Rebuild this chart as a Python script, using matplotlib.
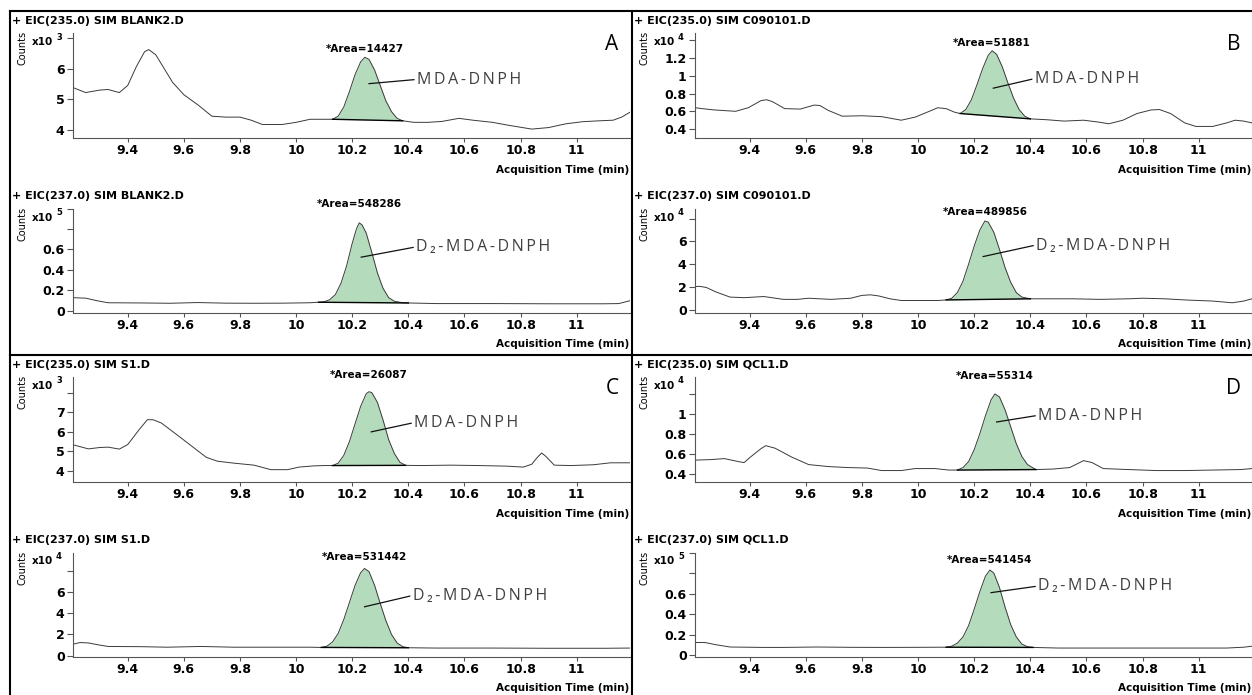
import numpy as np
import matplotlib.pyplot as plt
from matplotlib.lines import Line2D

# ---------------- data (values in units of the x10^n factor on each axis) ----------------
samples = ['BLANK2.D', 'C090101.D', 'S1.D', 'QCL1.D']
letters = ['A', 'B', 'C', 'D']
ions = ['235.0', '237.0']
compounds = ['MDA-DNPH', 'D\u2082-MDA-DNPH']
areas = [[14427, 548286], [51881, 489856], [26087, 531442], [55314, 541454]]
exponents = [[3, 5], [4, 4], [3, 4], [4, 5]]

# A: BLANK2
t_A1 = [9.20, 9.25, 9.30, 9.33, 9.37, 9.40, 9.43, 9.46, 9.475, 9.50, 9.53, 9.56, 9.60, 9.65, 9.70,
        9.75, 9.80, 9.84, 9.88, 9.95, 10.0, 10.05, 10.10,
        10.13, 10.15, 10.17, 10.19, 10.21, 10.23, 10.245, 10.26, 10.28, 10.30, 10.32, 10.34, 10.36, 10.38,
        10.42, 10.47, 10.52, 10.58, 10.63, 10.70, 10.76, 10.84, 10.90, 10.96, 11.02, 11.08, 11.13, 11.16, 11.19]
y_A1 = [5.40, 5.22, 5.30, 5.32, 5.22, 5.45, 6.05, 6.55, 6.62, 6.45, 6.00, 5.55, 5.15, 4.82, 4.45,
        4.42, 4.42, 4.32, 4.18, 4.18, 4.25, 4.35, 4.35,
        4.35, 4.45, 4.75, 5.25, 5.80, 6.22, 6.37, 6.30, 5.95, 5.45, 4.95, 4.60, 4.38, 4.30,
        4.25, 4.25, 4.28, 4.38, 4.32, 4.25, 4.15, 4.03, 4.08, 4.20, 4.27, 4.30, 4.32, 4.42, 4.58]
t_A2 = [9.20, 9.25, 9.29, 9.33, 9.45, 9.55, 9.65, 9.75, 9.85, 9.95, 10.05,
        10.08, 10.10, 10.12, 10.14, 10.16, 10.18, 10.20, 10.215, 10.225, 10.235, 10.25, 10.27, 10.29,
        10.31, 10.33, 10.35, 10.38, 10.40,
        10.50, 10.70, 10.90, 11.10, 11.15, 11.19]
y_A2 = [0.13, 0.125, 0.10, 0.08, 0.078, 0.075, 0.082, 0.076, 0.075, 0.076, 0.080,
        0.085, 0.09, 0.11, 0.16, 0.27, 0.44, 0.66, 0.80, 0.86, 0.84, 0.76, 0.57, 0.37,
        0.22, 0.13, 0.095, 0.08, 0.078,
        0.072, 0.072, 0.070, 0.070, 0.072, 0.10]

# B: C090101
t_B1 = [9.195, 9.23, 9.275, 9.30, 9.35, 9.395, 9.44, 9.46, 9.48, 9.525, 9.58, 9.63, 9.65, 9.68, 9.73,
        9.80, 9.87, 9.94, 9.99, 10.04, 10.07, 10.10, 10.13,
        10.15, 10.17, 10.19, 10.21, 10.23, 10.25, 10.264, 10.28, 10.30, 10.32, 10.34, 10.36, 10.38, 10.40,
        10.46, 10.52, 10.59, 10.64, 10.68, 10.73, 10.78, 10.83, 10.86, 10.90, 10.95, 10.99, 11.05,
        11.10, 11.13, 11.16, 11.19]
y_B1 = [0.645, 0.63, 0.615, 0.61, 0.60, 0.64, 0.72, 0.73, 0.71, 0.63, 0.625, 0.67, 0.665, 0.61, 0.545,
        0.55, 0.54, 0.50, 0.535, 0.60, 0.64, 0.63, 0.59,
        0.575, 0.62, 0.73, 0.90, 1.08, 1.23, 1.28, 1.24, 1.10, 0.92, 0.75, 0.62, 0.545, 0.515,
        0.505, 0.49, 0.50, 0.48, 0.46, 0.50, 0.575, 0.615, 0.62, 0.575, 0.47, 0.43, 0.43,
        0.47, 0.50, 0.49, 0.47]
t_B2 = [9.195, 9.22, 9.245, 9.28, 9.33, 9.38, 9.45, 9.52, 9.57, 9.61, 9.65, 9.69, 9.76, 9.80, 9.83,
        9.86, 9.90, 9.94, 10.0, 10.07,
        10.10, 10.12, 10.14, 10.16, 10.18, 10.20, 10.22, 10.238, 10.25, 10.27, 10.29, 10.31, 10.33,
        10.35, 10.37, 10.40,
        10.45, 10.55, 10.65, 10.75, 10.80, 10.88, 10.95, 11.05, 11.12, 11.16, 11.19]
y_B2 = [2.0, 2.05, 1.95, 1.55, 1.1, 1.05, 1.15, 0.9, 0.9, 1.0, 0.95, 0.9, 1.0, 1.25, 1.3,
        1.2, 0.95, 0.8, 0.8, 0.8,
        0.85, 1.0, 1.5, 2.5, 4.0, 5.6, 7.0, 7.8, 7.7, 6.8, 5.3, 3.7, 2.4,
        1.5, 1.1, 0.95,
        0.95, 0.95, 0.9, 0.95, 1.0, 0.95, 0.85, 0.75, 0.6, 0.75, 0.95]

# C: S1
t_C1 = [9.20, 9.26, 9.30, 9.33, 9.37, 9.40, 9.44, 9.47, 9.49, 9.52, 9.58, 9.63, 9.68, 9.72, 9.78,
        9.85, 9.91, 9.97, 10.01, 10.06, 10.10,
        10.13, 10.15, 10.17, 10.19, 10.21, 10.23, 10.25, 10.26, 10.27, 10.29, 10.31, 10.33, 10.35,
        10.37, 10.39,
        10.45, 10.55, 10.65, 10.75, 10.81, 10.84, 10.86, 10.875, 10.89, 10.92, 10.98, 11.06, 11.12, 11.19]
y_C1 = [5.36, 5.13, 5.20, 5.22, 5.12, 5.35, 6.10, 6.62, 6.62, 6.45, 5.80, 5.25, 4.70, 4.50, 4.40,
        4.30, 4.07, 4.07, 4.20, 4.26, 4.28,
        4.28, 4.40, 4.80, 5.50, 6.40, 7.30, 7.95, 8.05, 8.00, 7.50, 6.60, 5.60, 4.90,
        4.45, 4.29,
        4.28, 4.30, 4.28, 4.25, 4.20, 4.35, 4.70, 4.92, 4.75, 4.30, 4.28, 4.32, 4.42, 4.42]
t_C2 = [9.20, 9.23, 9.26, 9.30, 9.33, 9.45, 9.54, 9.66, 9.78, 9.90, 10.05,
        10.09, 10.11, 10.13, 10.15, 10.17, 10.19, 10.21, 10.23, 10.244, 10.26, 10.28, 10.30, 10.32,
        10.34, 10.36, 10.38, 10.40,
        10.50, 10.70, 10.90, 11.10, 11.19]
y_C2 = [1.05, 1.24, 1.20, 1.00, 0.87, 0.85, 0.80, 0.87, 0.80, 0.80, 0.80,
        0.78, 0.90, 1.30, 2.10, 3.40, 5.00, 6.60, 7.80, 8.20, 7.90, 6.60, 4.90, 3.30,
        2.00, 1.20, 0.85, 0.75,
        0.72, 0.72, 0.70, 0.70, 0.72]

# D: QCL1
t_D1 = [9.195, 9.26, 9.31, 9.36, 9.38, 9.40, 9.44, 9.457, 9.49, 9.55, 9.61, 9.68, 9.75, 9.82, 9.87,
        9.94, 9.99, 10.06, 10.11,
        10.14, 10.16, 10.18, 10.20, 10.22, 10.24, 10.26, 10.274, 10.29, 10.31, 10.33, 10.35, 10.37,
        10.39, 10.42,
        10.48, 10.54, 10.59, 10.62, 10.66, 10.75, 10.85, 10.95, 11.05, 11.15, 11.19]
y_D1 = [0.534, 0.54, 0.55, 0.52, 0.51, 0.56, 0.65, 0.68, 0.655, 0.565, 0.49, 0.47, 0.46, 0.455, 0.43,
        0.43, 0.45, 0.45, 0.435,
        0.435, 0.46, 0.52, 0.64, 0.80, 0.98, 1.14, 1.20, 1.17, 1.04, 0.87, 0.70, 0.57,
        0.49, 0.44,
        0.445, 0.46, 0.53, 0.51, 0.45, 0.44, 0.43, 0.43, 0.435, 0.44, 0.45]
t_D2 = [9.195, 9.24, 9.28, 9.33, 9.45, 9.52, 9.64, 9.76, 9.88, 10.0, 10.07,
        10.10, 10.12, 10.14, 10.16, 10.18, 10.20, 10.22, 10.24, 10.256, 10.27, 10.29, 10.31, 10.33,
        10.35, 10.37, 10.39, 10.41,
        10.50, 10.70, 10.90, 11.10, 11.16, 11.19]
y_D2 = [0.126, 0.126, 0.104, 0.082, 0.078, 0.078, 0.082, 0.079, 0.078, 0.079, 0.080,
        0.080, 0.09, 0.12, 0.18, 0.29, 0.45, 0.62, 0.77, 0.83, 0.80, 0.66, 0.47, 0.30,
        0.18, 0.11, 0.085, 0.078,
        0.072, 0.072, 0.072, 0.072, 0.080, 0.09]

traces = [[(t_A1, y_A1), (t_A2, y_A2)], [(t_B1, y_B1), (t_B2, y_B2)],
          [(t_C1, y_C1), (t_C2, y_C2)], [(t_D1, y_D1), (t_D2, y_D2)]]
# integration windows (start, end) in min
peaks = [[(10.13, 10.38), (10.08, 10.40)], [(10.15, 10.40), (10.10, 10.40)],
         [(10.13, 10.39), (10.09, 10.40)], [(10.14, 10.42), (10.10, 10.41)]]

x_ticks = [9.4, 9.6, 9.8, 10, 10.2, 10.4, 10.6, 10.8, 11]
x_labels = ['9.4', '9.6', '9.8', '10', '10.2', '10.4', '10.6', '10.8', '11']

# ---------------- axis settings ----------------
ylims = [[(3.74, 7.16), (-0.02, 1.0)], [(0.30, 1.48), (-0.3, 8.9)],
         [(3.44, 8.8), (-0.12, 9.7)], [(0.315, 1.37), (-0.015, 1.0)]]
yticks = [[([4, 5, 6, 7], ['4', '5', '6', '']),
           ([0, 0.2, 0.4, 0.6, 0.8, 1.0], ['0', '0.2', '0.4', '0.6', '', ''])],
          [([0.4, 0.6, 0.8, 1.0, 1.2, 1.4], ['0.4', '0.6', '0.8', '1', '1.2', '']),
           ([0, 2, 4, 6, 8], ['0', '2', '4', '6', ''])],
          [([4, 5, 6, 7, 8], ['4', '5', '6', '7', '']),
           ([0, 2, 4, 6, 8], ['0', '2', '4', '6', ''])],
          [([0.4, 0.6, 0.8, 1.0, 1.2], ['0.4', '0.6', '0.8', '1', '']),
           ([0, 0.2, 0.4, 0.6, 0.8, 1.0], ['0', '0.2', '0.4', '0.6', '', ''])]]
# leader line from inside the peak to the compound label (data coords)
leaders = [[((10.26, 5.51), (10.42, 5.64)), ((10.232, 0.525), (10.417, 0.62))],
           [((10.268, 0.86), (10.405, 0.96)), ((10.232, 4.67), (10.41, 5.63))],
           [((10.268, 6.0), (10.41, 6.44)), ((10.244, 4.6), (10.405, 5.6))],
           [((10.28, 0.918), (10.417, 0.98)), ((10.26, 0.61), (10.417, 0.67))]]
# gap (px) between peak apex and the bottom of the area label
area_gap = [[3, 14], [3, 4], [12, 6], [13, 5]]

W, H = 1252, 695
fig = plt.figure(figsize=(W / 100, H / 100), dpi=100)


def fx(x):
    return x / W


def fy(y):
    return 1 - y / H


green = '#b4dcbc'
lc = '#3a3a3a'
spc = '\u2009'
quad_x = [10, 632, 10, 632]
quad_y = [11, 11, 355, 355]
ax_w = 557

for p in range(4):
    qx, qy = quad_x[p], quad_y[p]
    left = qx + 63
    for s in range(2):
        top = qy + (22 if s == 0 else 197.5)
        bot = qy + (127 if s == 0 else 302)
        ax = fig.add_axes([fx(left), fy(bot), ax_w / W, (bot - top) / H])
        t = np.array(traces[p][s][0])
        y = np.array(traces[p][s][1])
        t0, t1 = peaks[p][s]
        m = (t >= t0) & (t <= t1)
        tt, yy = t[m], y[m]
        base = np.interp(tt, [tt[0], tt[-1]], [yy[0], yy[-1]])
        ax.fill_between(tt, base, yy, color=green, lw=0, zorder=1)
        ax.plot([tt[0], tt[-1]], [yy[0], yy[-1]], color='k', lw=1.0, zorder=3)
        ax.plot(t, y, color=lc, lw=0.7, zorder=2)

        ax.set_xlim(9.205, 11.19)
        ax.set_ylim(*ylims[p][s])
        ax.set_xticks(x_ticks, x_labels, fontweight='bold', fontsize=9)
        ax.set_yticks(yticks[p][s][0], yticks[p][s][1], fontweight='bold', fontsize=9)
        ax.tick_params(axis='x', length=3, width=0.8, pad=1.5, color='#555555')
        ax.tick_params(axis='y', length=4, width=0.8, pad=2, color='#555555')
        for sp in ['top', 'right']:
            ax.spines[sp].set_visible(False)
        for sp in ['left', 'bottom']:
            ax.spines[sp].set_color('#555555')
            ax.spines[sp].set_linewidth(0.8)
        ax.patch.set_alpha(0)

        # peak annotations
        ia = int(np.argmax(yy))
        ax.annotate('*Area=%d' % areas[p][s], xy=(tt[ia], yy[ia]),
                    xytext=(0, area_gap[p][s] * 0.72), textcoords='offset points',
                    ha='center', va='bottom', fontsize=7.5, fontweight='bold')
        (a0, b0), (a1, b1) = leaders[p][s]
        ax.plot([a0, a1], [b0, b1], color='#111111', lw=0.9, zorder=4)
        ax.annotate(spc.join(compounds[s]), xy=(a1, b1), xytext=(2, 0),
                    textcoords='offset points', ha='left', va='center',
                    fontsize=11.5, color='#404040', family=['Open Sans', 'DejaVu Sans'])

        # header / axis labels
        fig.text(fx(qx + 2), fy(qy + (10 if s == 0 else 185)),
                 '+ EIC(%s) SIM %s' % (ions[s], samples[p]),
                 ha='left', va='center', fontsize=8, fontweight='bold')
        fig.text(fx(min(left + ax_w - 1, W - 1)), fy(qy + (159 if s == 0 else 333)),
                 'Acquisition Time (min)', ha='right', va='center',
                 fontsize=7.5, fontweight='bold')
        fig.text(fx(left - 50), fy(top + 15), 'Counts', rotation=90,
                 ha='center', va='center', fontsize=7)
        fig.text(fx(left - 20), fy(top + 9), 'x10', ha='right', va='center',
                 fontsize=7.5, fontweight='bold')
        fig.text(fx(left - 17), fy(top + 4), str(exponents[p][s]), ha='left',
                 va='center', fontsize=6, fontweight='bold')

    fig.text(fx(qx + 602), fy(qy + 33), letters[p], ha='center', va='center',
             fontsize=15, family=['Open Sans', 'DejaVu Sans'])

# quadrant frames
for x in [10, 632]:
    fig.add_artist(Line2D([fx(x), fx(x)], [0, fy(11)], color='k', lw=1.5))
for yl in [11, 355]:
    fig.add_artist(Line2D([fx(10), 1], [fy(yl), fy(yl)], color='k', lw=1.5))

fig.savefig('out.png', dpi=100)
